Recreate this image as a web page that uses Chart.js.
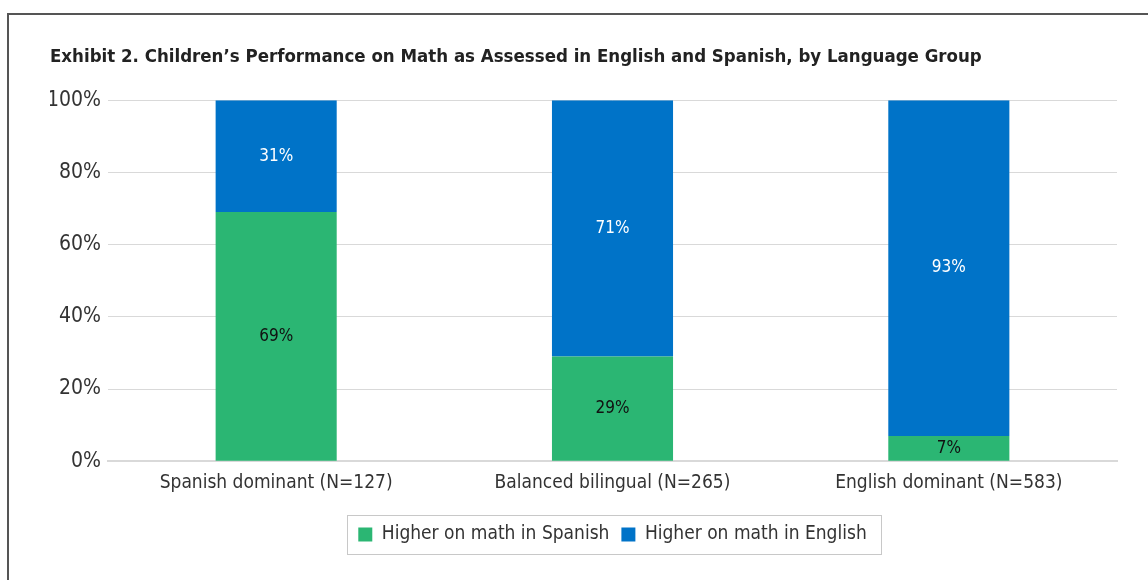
<!DOCTYPE html>
<html>
<head>
<meta charset="utf-8">
<script src="https://cdn.jsdelivr.net/npm/chart.js@4"></script>
<style>
html,body{margin:0;padding:0;background:#fff;}
#wrap{position:relative;width:1148px;height:580px;overflow:hidden;}
#frame{position:absolute;left:7px;top:13px;width:1200px;height:700px;border-left:2px solid #555;border-top:2px solid #555;box-sizing:border-box;}
canvas{position:absolute;left:0;top:0;}
</style>
</head>
<body>
<div id="wrap">
<div id="frame"></div>
<canvas id="c" width="1148" height="580"></canvas>
</div>
<script>
const categories = ["Spanish dominant (N=127)", "Balanced bilingual (N=265)", "English dominant (N=583)"];
const seriesNames = ["Higher on math in Spanish", "Higher on math in English"];
const spanishValues = [69, 29, 7];
const englishValues = [31, 71, 93];
const yTicks = [0, 20, 40, 60, 80, 100];
const titleText = "Exhibit 2. Children\u2019s Performance on Math as Assessed in English and Spanish, by Language Group";

const FONT = "'Liberation Sans Narrow', 'DejaVu Sans Condensed', sans-serif";

const dataLabels = {
  id: 'dataLabels',
  afterDatasetsDraw(chart) {
    const ctx = chart.ctx;
    ctx.save();
    ctx.font = "17px " + FONT;
    ctx.textAlign = 'center';
    ctx.textBaseline = 'middle';
    chart.data.datasets.forEach((ds, di) => {
      const meta = chart.getDatasetMeta(di);
      meta.data.forEach((el, i) => {
        const p = el.getProps(['x', 'y', 'base'], true);
        ctx.fillStyle = ds.labelColor;
        ctx.fillText(ds.data[i] + '%', p.x, (p.y + p.base) / 2);
      });
    });
    ctx.restore();
  }
};

const legendBox = {
  id: 'legendBox',
  afterLayout(chart) {
    const lg = chart.legend, ca = chart.chartArea;
    if (!lg || !ca) return;
    const d = (ca.left + ca.right) / 2 - (lg.left + lg.right) / 2;
    lg.left += d; lg.right += d;
  },
  afterDraw(chart) {
    const lg = chart.legend;
    if (!lg || !lg.legendHitBoxes || !lg.legendHitBoxes.length) return;
    const hb = lg.legendHitBoxes;
    let l = Infinity, r = -Infinity, t = Infinity, b = -Infinity;
    hb.forEach(h => { l = Math.min(l, h.left); r = Math.max(r, h.left + h.width); t = Math.min(t, h.top); b = Math.max(b, h.top + h.height); });
    const ctx = chart.ctx;
    ctx.save();
    ctx.strokeStyle = '#c8c8c8';
    ctx.lineWidth = 1;
    ctx.strokeRect(Math.round(l - 11) + 0.5, Math.round(t - 10) + 0.5, Math.round(r - l + 26), Math.round(b - t + 20));
    ctx.restore();
  }
};

new Chart(document.getElementById('c'), {
  type: 'bar',
  data: {
    labels: categories,
    datasets: [
      { label: seriesNames[0], data: spanishValues, backgroundColor: '#2bb673', labelColor: '#111', categoryPercentage: 1, barPercentage: 0.36 },
      { label: seriesNames[1], data: englishValues, backgroundColor: '#0073c8', labelColor: '#fff', categoryPercentage: 1, barPercentage: 0.36 }
    ]
  },
  options: {
    responsive: false,
    animation: false,
    layout: { padding: { left: 50, right: 31, top: 46, bottom: 26 } },
    plugins: {
      title: {
        display: true, text: titleText, align: 'start', color: '#222',
        font: { family: FONT, size: 18.5, weight: 'bold' },
        padding: { top: 0, bottom: 32 }
      },
      legend: {
        position: 'bottom',
        labels: {
          boxWidth: 14, boxHeight: 14, color: '#333', padding: 12,
          font: { family: FONT, size: 19 }
        }
      },
      tooltip: { enabled: false }
    },
    scales: {
      x: {
        stacked: true,
        grid: { display: false },
        border: { display: true, color: '#d9d9d9', width: 2 },
        ticks: { color: '#333', font: { family: FONT, size: 19 }, padding: 2 },
        afterFit(axis) { axis.height += 17; }
      },
      y: {
        stacked: true, min: 0, max: 100,
        afterBuildTicks(axis) { axis.ticks = yTicks.map(v => ({ value: v })); },
        afterFit(axis) { axis.width = 58; },
        grid: { color: '#d9d9d9', lineWidth: 1, drawTicks: false },
        border: { display: false },
        ticks: { color: '#333', font: { family: FONT, size: 21 }, padding: 7, callback: v => v + '%' }
      }
    }
  },
  plugins: [dataLabels, legendBox]
});
</script>
</body>
</html>
